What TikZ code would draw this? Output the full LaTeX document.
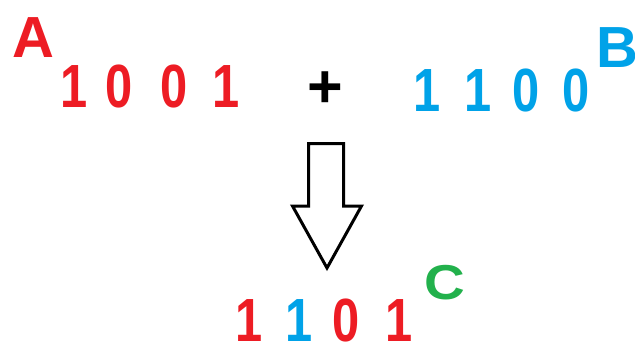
\documentclass[tikz,border=0pt]{standalone}
\usepackage{fontspec}
\setmainfont{Liberation Sans}
\definecolor{cred}{HTML}{ED1C24}
\definecolor{cblue}{HTML}{00A2E8}
\definecolor{cgreen}{HTML}{22B14C}
\newcommand{\nd}[1]{\scalebox{0.8}[1]{#1}}
\tikzset{
  dig/.style={inner sep=0pt, anchor=base, font=\fontsize{61}{61}\selectfont\bfseries},
  lab/.style={inner sep=0pt, anchor=base, font=\fontsize{#1}{#1}\selectfont\bfseries},
  bigarrow/.style={draw=black, line width=3pt, line join=miter}
}
\begin{document}
\begin{tikzpicture}[x=1pt,y=-1pt]
\useasboundingbox[fill=white] (0,0) rectangle (635,343);
% A and 1001
\node[lab=58, text=cred] (A) at (33.5,57) {A};
\node[dig, text=cred] (a1) at (74.5,107) {\nd{1}};
\node[dig, text=cred] (a2) at (119.5,107) {\nd{0}};
\node[dig, text=cred] (a3) at (174,107) {\nd{0}};
\node[dig, text=cred] (a4) at (226,107) {\nd{1}};
% plus
\node[dig, text=black] (plus) at (325.5,107) {+};
% 1100 and B
\node[dig, text=cblue] (b1) at (427,111) {\nd{1}};
\node[dig, text=cblue] (b2) at (478,111) {\nd{1}};
\node[dig, text=cblue] (b3) at (526,111) {\nd{0}};
\node[dig, text=cblue] (b4) at (576,111) {\nd{0}};
\node[lab=58, text=cblue] (B) at (617,67) {B};
% arrow
\draw[bigarrow] (308.5,143.5) -- (343.5,143.5) -- (343.5,206) -- (361.5,206)
  -- (327,268) -- (292.5,206) -- (308.5,206) -- cycle;
% result 1101 and C
\node[dig, text=cred] (c1) at (249,341) {\nd{1}};
\node[dig, text=cblue] (c2) at (299,341) {\nd{1}};
\node[dig, text=cred] (c3) at (346,341) {\nd{0}};
\node[dig, text=cred] (c4) at (399,341) {\nd{1}};
\node[lab=49, text=cgreen] (C) at (445,299) {\scalebox{1.15}[1]{C}};
\end{tikzpicture}
\end{document}
